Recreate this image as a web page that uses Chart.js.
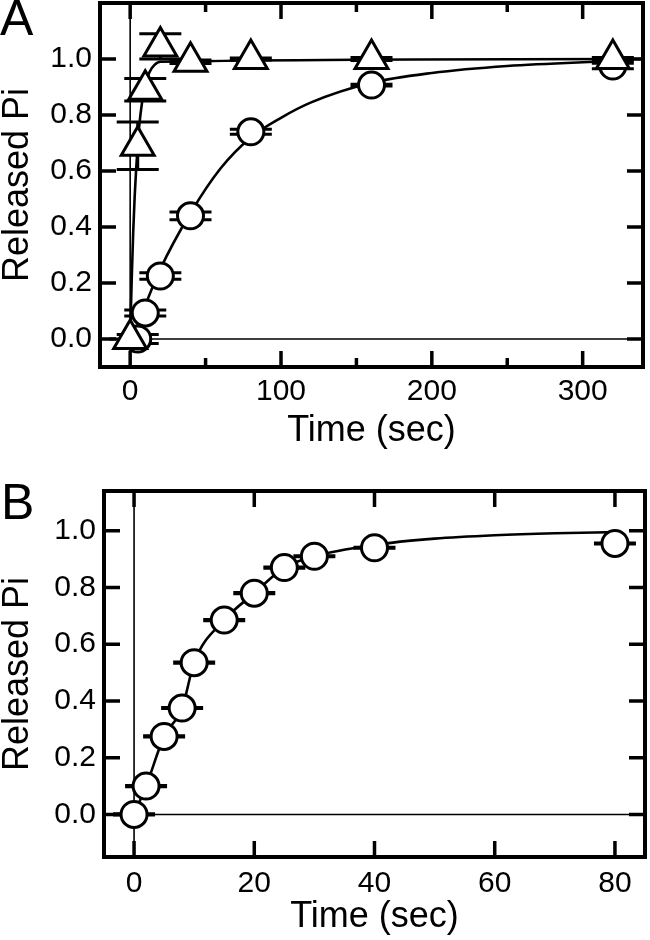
<!DOCTYPE html>
<html><head><meta charset="utf-8">
<script src="https://cdn.jsdelivr.net/npm/chart.js@4/dist/chart.umd.min.js"></script>
<style>
html,body{margin:0;padding:0;background:#fff;}
#wrap{position:relative;width:650px;height:940px;overflow:hidden;}
.panel{position:absolute;left:0;width:650px;}
.letter{position:absolute;left:0;font-family:"Liberation Sans",Arial,sans-serif;font-size:50px;line-height:1;color:#000;}
</style></head><body>
<div id="wrap">
<div class="panel" style="top:0;height:465px"><canvas id="cA" width="650" height="465"></canvas></div>
<div class="panel" style="top:465px;height:475px"><canvas id="cB" width="650" height="475"></canvas></div>
<div class="letter" style="top:-7px;left:0px">A</div>
<div class="letter" style="top:477px;left:1px">B</div>
</div>
<script>
// ---------- Panel A data ----------
const timeA_tri = [0, 5, 10, 20, 40, 80, 160, 320];
const piA_tri   = [0.0, 0.69, 0.89, 1.045, 0.99, 1.0, 1.0, 1.0];
const errA_tri  = [0.0, 0.085, 0.04, 0.045, 0.006, 0.004, 0.005, 0.005];
const timeA_cir = [5, 10, 20, 40, 80, 160, 320];
const piA_cir   = [0.0, 0.093, 0.225, 0.44, 0.74, 0.907, 0.975];
const errA_cir  = [0.016, 0.011, 0.012, 0.014, 0.009, 0.003, 0.01];
const fitA_tri_t = [0, 1, 2, 3, 4, 5, 6, 8, 10, 13, 16, 20, 340];
const fitA_tri_y = [0, 0.21, 0.38, 0.51, 0.61, 0.69, 0.76, 0.85, 0.91, 0.955, 0.978, 0.99, 1.0];
const fitA_cir_t = [0, 5, 10, 20, 40, 60, 80, 100, 120, 160, 200, 250, 320];
const fitA_cir_y = [0, 0.05, 0.12, 0.25, 0.45, 0.61, 0.72, 0.79, 0.845, 0.915, 0.95, 0.975, 0.993];
const xTicksA = [0, 100, 200, 300];
const xMinorA = [50, 150, 250];
const yTicks = [0, 0.2, 0.4, 0.6, 0.8, 1.0];
const yTickLabels = ['0.0', '0.2', '0.4', '0.6', '0.8', '1.0'];

// ---------- Panel B data ----------
const timeB = [0, 2, 5, 8, 10, 15, 20, 25, 30, 40, 80];
const piB   = [0.0, 0.10, 0.275, 0.375, 0.535, 0.685, 0.78, 0.87, 0.91, 0.94, 0.955];
const errB  = [0.002, 0.002, 0.002, 0.002, 0.002, 0.002, 0.002, 0.002, 0.002, 0.002, 0.002];
const fitB_t = [0, 2, 5, 8, 10, 15, 20, 25, 30, 40, 50, 60, 70, 80];
const fitB_y = [0, 0.10, 0.275, 0.375, 0.535, 0.685, 0.78, 0.87, 0.91, 0.95, 0.972, 0.984, 0.991, 0.995];
const xTicksB = [0, 20, 40, 60, 80];

const FONT = '"Liberation Sans", Arial, Helvetica, sans-serif';
const pts = (xs, ys) => xs.map((x, i) => ({x: x, y: ys[i]}));
const zeroPad = () => ({left: 0, top: 0, right: 0, bottom: 0});
const noPad = s => {
  s.paddingTop = 0; s.paddingBottom = 0; s.paddingLeft = 0; s.paddingRight = 0;
  s.getPadding = zeroPad;
};

const framePlugin = {
  id: 'frame',
  beforeDatasetsDraw(chart) {
    const o = chart.options.plugins.frame;
    const {ctx, chartArea: a, scales: {x, y}} = chart;
    ctx.save();
    ctx.strokeStyle = '#000';
    ctx.lineWidth = 1.6;
    const x0 = x.getPixelForValue(0), y0 = y.getPixelForValue(0);
    ctx.beginPath();
    ctx.moveTo(x0, a.top); ctx.lineTo(x0, a.bottom);
    ctx.moveTo(a.left, y0); ctx.lineTo(a.right, y0);
    ctx.stroke();
    // error bars
    chart.data.datasets.forEach((ds) => {
      if (!ds.errY) return;
      ctx.lineWidth = 3;
      ds.data.forEach((p, i) => {
        const e = ds.errY[i];
        const px = x.getPixelForValue(p.x);
        const yh = y.getPixelForValue(p.y + e), yl = y.getPixelForValue(p.y - e);
        const cw = o.capHalf;
        ctx.beginPath();
        ctx.moveTo(px, yh); ctx.lineTo(px, yl);
        ctx.moveTo(px - cw, yh); ctx.lineTo(px + cw, yh);
        ctx.moveTo(px - cw, yl); ctx.lineTo(px + cw, yl);
        ctx.stroke();
      });
    });
    ctx.restore();
  },
  afterDatasetsDraw(chart) {
    const o = chart.options.plugins.frame;
    const {ctx, chartArea: a, scales: {x, y}} = chart;
    ctx.save();
    ctx.strokeStyle = '#000';
    ctx.lineWidth = 3.5;
    ctx.beginPath();
    o.xMajor.forEach(v => {
      const px = x.getPixelForValue(v);
      ctx.moveTo(px, a.bottom); ctx.lineTo(px, a.bottom - o.major);
      ctx.moveTo(px, a.top); ctx.lineTo(px, a.top + o.major);
    });
    o.xMinor.forEach(v => {
      const px = x.getPixelForValue(v);
      ctx.moveTo(px, a.bottom); ctx.lineTo(px, a.bottom - o.minor);
      ctx.moveTo(px, a.top); ctx.lineTo(px, a.top + o.minor);
    });
    o.yMajor.forEach(v => {
      const py = y.getPixelForValue(v);
      ctx.moveTo(a.left, py); ctx.lineTo(a.left + o.major, py);
      ctx.moveTo(a.right, py); ctx.lineTo(a.right - o.major, py);
    });
    ctx.stroke();
    ctx.lineWidth = 4;
    ctx.strokeRect(a.left, a.top, a.right - a.left, a.bottom - a.top);
    ctx.restore();
  }
};

function makeChart(id, cfg) {
  return new Chart(document.getElementById(id), {
    type: 'scatter',
    data: {datasets: cfg.datasets},
    options: {
      responsive: false,
      animation: false,
      devicePixelRatio: 1,
      layout: {padding: cfg.pad, autoPadding: false},
      plugins: {
        legend: {display: false},
        tooltip: {enabled: false},
        frame: cfg.frame
      },
      scales: {
        x: {
          type: 'linear', position: 'bottom', min: cfg.xmin, max: cfg.xmax,
          afterBuildTicks: s => { s.ticks = cfg.xTicks.map(v => ({value: v})); },
          afterFit: s => { s.height = cfg.xh; noPad(s); },
          grid: {display: false, drawTicks: false},
          border: {display: false},
          ticks: {color: '#000', font: {family: FONT, size: 30}, padding: cfg.xpad, maxRotation: 0, autoSkip: false,
                  callback: v => String(v)},
          title: {display: true, text: 'Time (sec)', color: '#000', font: {family: FONT, size: 36, lineHeight: 1}, padding: 0}
        },
        y: {
          type: 'linear', position: 'left', min: cfg.ymin, max: cfg.ymax,
          afterBuildTicks: s => { s.ticks = yTicks.map(v => ({value: v})); },
          afterFit: s => { s.width = cfg.yw; noPad(s); },
          grid: {display: false, drawTicks: false},
          border: {display: false},
          ticks: {color: '#000', font: {family: FONT, size: 30}, padding: 8, autoSkip: false,
                  callback: (v, i) => yTickLabels[i]},
          title: {display: true, text: 'Released Pi', color: '#000', font: {family: FONT, size: 36, lineHeight: 1}, padding: 0}
        }
      }
    },
    plugins: [framePlugin]
  });
}

const lineDs = (xs, ys) => ({data: pts(xs, ys), showLine: true, borderColor: '#000', borderWidth: 2.6,
  pointRadius: 0, cubicInterpolationMode: 'monotone', fill: false, order: 5});
const circDs = (xs, ys, es) => ({data: pts(xs, ys), errY: es, pointStyle: 'circle', pointRadius: 13,
  pointBorderWidth: 3, pointBackgroundColor: '#fff', pointBorderColor: '#000', showLine: false, order: 2});
const triDs = (xs, ys, es) => ({data: pts(xs, ys), errY: es, pointStyle: 'triangle', pointRadius: 19,
  pointBorderWidth: 3, pointBackgroundColor: '#fff', pointBorderColor: '#000', showLine: false, order: 1});

makeChart('cA', {
  datasets: [
    lineDs(fitA_tri_t, fitA_tri_y),
    lineDs(fitA_cir_t, fitA_cir_y),
    circDs(timeA_cir, piA_cir, errA_cir),
    triDs(timeA_tri, piA_tri, errA_tri)
  ],
  pad: {top: 3, right: 7, bottom: 16, left: 0},
  xmin: -20, xmax: 340, ymin: -0.1, ymax: 1.2,
  xTicks: xTicksA, xh: 82, yw: 100, xpad: 7,
  frame: {xMajor: xTicksA, xMinor: xMinorA, yMajor: yTicks, major: 16, minor: 9, capHalf: 21}
});

makeChart('cB', {
  datasets: [
    lineDs(fitB_t, fitB_y),
    circDs(timeB, piB, errB)
  ],
  pad: {top: 26, right: 5, bottom: 5, left: 0},
  xmin: -5, xmax: 85, ymin: -0.15, ymax: 1.14,
  xTicks: xTicksB, xh: 78, yw: 104, xpad: 9,
  frame: {xMajor: xTicksB, xMinor: [], yMajor: yTicks, major: 16, minor: 9, capHalf: 21}
});
</script>
</body></html>
